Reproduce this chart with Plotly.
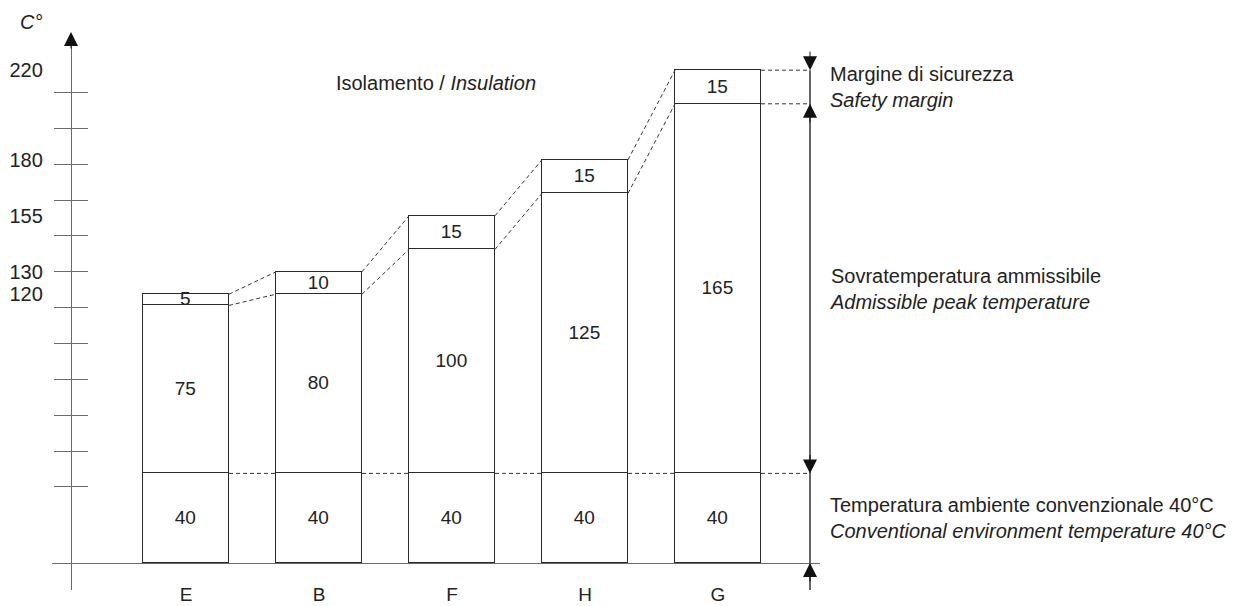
import plotly.graph_objects as go

# ---------------- data ----------------
categories = ["E", "B", "F", "H", "G"]
ambient = [40, 40, 40, 40, 40]
admissible = [75, 80, 100, 125, 165]
safety = [5, 10, 15, 15, 15]
y_tick_values = [120, 130, 155, 180, 220]
y_tick_labels = ["120", "130", "155", "180", "220"]

title_text = "Isolamento / <i>Insulation</i>"
unit_text = "<i>C°</i>"
label_safety = "Margine di sicurezza<br><i>Safety margin</i>"
label_admissible = "Sovratemperatura ammissibile<br><i>Admissible peak temperature</i>"
label_ambient = "Temperatura ambiente convenzionale 40°C<br><i>Conventional environment temperature 40°C</i>"

# ---------------- layout / style constants ----------------
W, H = 1240, 606
FONT = "Liberation Sans, Arial, Helvetica, sans-serif"
FS = 20
TXT = "#222222"
AXC = "#6a6a6a"
BARLINE = "#2a2a2a"

BASE_PX = 563          # pixel row of value 0
SCALE = 2.24           # pixels per degree
YLINE_BOTTOM_PX = 590
YLINE_TOP_PX = 45
YAXIS_PX = 71
X_LEFT_PX, X_RIGHT_PX = 52, 820
CAT0_PX, STEP_PX = 186, 133
BAR_W = 86 / STEP_PX
ARROW_X = (810 - CAT0_PX) / STEP_PX

y_lo = (BASE_PX - YLINE_BOTTOM_PX) / SCALE
y_hi = (BASE_PX - YLINE_TOP_PX) / SCALE
x_lo = (X_LEFT_PX - CAT0_PX) / STEP_PX
x_hi = (X_RIGHT_PX - CAT0_PX) / STEP_PX
y_dom = [(H - YLINE_BOTTOM_PX) / H, (H - YLINE_TOP_PX) / H]

xpos = list(range(len(categories)))
lvl1 = ambient
lvl2 = [a + b for a, b in zip(ambient, admissible)]
lvl3 = [a + b for a, b in zip(lvl2, safety)]

fig = go.Figure()

for vals in (ambient, admissible, safety):
    fig.add_trace(go.Bar(
        x=xpos, y=vals, width=BAR_W,
        marker=dict(color="white", line=dict(color=BARLINE, width=1.3)),
        text=[str(v) for v in vals], textposition="inside",
        insidetextanchor="middle", textangle=0,
        textfont=dict(family=FONT, size=19, color=TXT),
        hoverinfo="skip", showlegend=False,
    ))

# dashed connectors between bar tops at each level, ending at the dimension arrow
for lvl in (lvl1, lvl2, lvl3):
    xs, ys = [], []
    for i in range(len(xpos) - 1):
        xs += [xpos[i] + BAR_W / 2, xpos[i + 1] - BAR_W / 2, None]
        ys += [lvl[i], lvl[i + 1], None]
    xs += [xpos[-1] + BAR_W / 2, ARROW_X]
    ys += [lvl[-1], lvl[-1]]
    fig.add_trace(go.Scatter(
        x=xs, y=ys, mode="lines",
        line=dict(color="#333333", width=1, dash="4px,3px"),
        hoverinfo="skip", showlegend=False,
    ))

# vertical dimension line
fig.add_trace(go.Scatter(
    x=[ARROW_X, ARROW_X], y=[lvl3[-1], y_lo], mode="lines",
    line=dict(color="#111111", width=1.3),
    hoverinfo="skip", showlegend=False,
))

# carrier trace so the tick-mark axis is drawn
fig.add_trace(go.Scatter(x=[None], y=[None], yaxis="y2", mode="lines",
                         hoverinfo="skip", showlegend=False))

annotations = []
arrow_style = dict(xref="x", yref="y", text="", showarrow=True, arrowhead=2,
                   arrowsize=2.8, arrowwidth=1, arrowcolor="#111111", ax=0)
annotations.append(dict(x=ARROW_X, y=lvl3[-1], ay=-20, **arrow_style))
annotations.append(dict(x=ARROW_X, y=lvl2[-1], ay=20, **arrow_style))
annotations.append(dict(x=ARROW_X, y=lvl1[-1], ay=-20, **arrow_style))
annotations.append(dict(x=ARROW_X, y=0, ay=20, **arrow_style))

# y axis arrow head
annotations.append(dict(xref="paper", yref="paper", x=YAXIS_PX / W, y=(H - 32) / H,
                        text="", showarrow=True, arrowhead=2, arrowsize=2.8,
                        arrowwidth=1, arrowcolor="#111111", ax=0, ay=18))
annotations.append(dict(xref="paper", yref="paper", x=31 / W, y=(H - 22) / H,
                        text=unit_text, showarrow=False, xanchor="center", yanchor="middle",
                        font=dict(family=FONT, size=FS, color=TXT)))

for txt, yv in ((label_safety, (lvl2[-1] + lvl3[-1]) / 2),
                (label_admissible, (lvl1[-1] + lvl2[-1]) / 2),
                (label_ambient, lvl1[-1] / 2)):
    annotations.append(dict(xref="paper", yref="y", x=828 / W, y=yv, text=txt,
                            showarrow=False, xanchor="left", yanchor="middle", align="left",
                            font=dict(family=FONT, size=FS, color=TXT)))

fig.update_layout(
    width=W, height=H, autosize=False,
    margin=dict(l=0, r=0, t=0, b=0, pad=0, autoexpand=False),
    paper_bgcolor="white", plot_bgcolor="white",
    barmode="stack", bargap=0,
    font=dict(family=FONT, size=FS, color=TXT),
    uniformtext=dict(minsize=19, mode="show"),
    title=dict(text=title_text, x=436 / W, y=(H - 83) / H, xanchor="center",
               yanchor="middle", automargin=False,
               font=dict(family=FONT, size=FS, color=TXT)),
    xaxis=dict(domain=[X_LEFT_PX / W, X_RIGHT_PX / W], range=[x_lo, x_hi],
               anchor="free", position=(H - BASE_PX) / H, automargin=False,
               tickmode="array", tickvals=xpos, ticktext=categories,
               showline=True, linecolor=AXC, linewidth=1.3, ticks="",
               ticklabelstandoff=14, showgrid=False, zeroline=False,
               tickfont=dict(family=FONT, size=FS - 1, color=TXT)),
    yaxis=dict(domain=y_dom, range=[y_lo, y_hi], anchor="free", position=YAXIS_PX / W,
               automargin=False,
               tickmode="array", tickvals=y_tick_values, ticktext=y_tick_labels,
               showline=True, linecolor=AXC, linewidth=1.3, ticks="",
               ticklabelstandoff=24, showgrid=False, zeroline=False,
               tickfont=dict(family=FONT, size=FS, color=TXT)),
    yaxis2=dict(domain=y_dom, range=[y_lo, y_hi], overlaying="y", anchor="free",
                position=(YAXIS_PX + 17) / W, side="left", automargin=False,
                tickmode="array", tickvals=[34 + 16 * k for k in range(12)],
                ticks="outside", ticklen=34, tickwidth=1.3, tickcolor=AXC,
                showticklabels=False, showline=False, showgrid=False, zeroline=False),
    annotations=annotations,
)

fig.write_html("out.html", config={"displayModeBar": False},
               post_script="document.body.style.margin='0';")
